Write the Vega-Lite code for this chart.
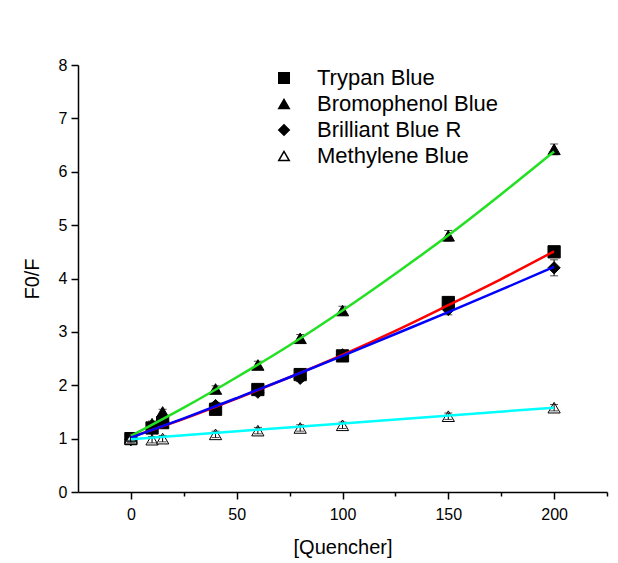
{
  "$schema": "https://vega.github.io/schema/vega-lite/v6.json",
  "width": 529,
  "height": 427,
  "autosize": "none",
  "padding": {"left": 78, "top": 65, "right": 11, "bottom": 71},
  "background": "white",
  "config": {
    "font": "Liberation Sans",
    "view": {"stroke": null},
    "axis": {"grid": false, "domainColor": "black", "tickColor": "black", "domainWidth": 1.5, "tickWidth": 1.5, "labelColor": "black", "titleColor": "black", "labelFont": "Liberation Sans", "titleFont": "Liberation Sans", "titleFontWeight": "normal"}
  },
  "datasets": {
    "pts": [
      {"series": "Trypan Blue", "x": 0, "y": 1.0, "err": 0.05},
      {"series": "Trypan Blue", "x": 10, "y": 1.2, "err": 0.05},
      {"series": "Trypan Blue", "x": 15, "y": 1.3, "err": 0.05},
      {"series": "Trypan Blue", "x": 40, "y": 1.55, "err": 0.06},
      {"series": "Trypan Blue", "x": 60, "y": 1.92, "err": 0.06},
      {"series": "Trypan Blue", "x": 80, "y": 2.2, "err": 0.06},
      {"series": "Trypan Blue", "x": 100, "y": 2.55, "err": 0.08},
      {"series": "Trypan Blue", "x": 150, "y": 3.55, "err": 0.1},
      {"series": "Trypan Blue", "x": 200, "y": 4.5, "err": 0.08},
      {"series": "Bromophenol Blue", "x": 0, "y": 1.02, "err": 0.05},
      {"series": "Bromophenol Blue", "x": 10, "y": 1.28, "err": 0.05},
      {"series": "Bromophenol Blue", "x": 15, "y": 1.5, "err": 0.05},
      {"series": "Bromophenol Blue", "x": 40, "y": 1.93, "err": 0.06},
      {"series": "Bromophenol Blue", "x": 60, "y": 2.38, "err": 0.07},
      {"series": "Bromophenol Blue", "x": 80, "y": 2.88, "err": 0.07},
      {"series": "Bromophenol Blue", "x": 100, "y": 3.4, "err": 0.08},
      {"series": "Bromophenol Blue", "x": 150, "y": 4.8, "err": 0.1},
      {"series": "Bromophenol Blue", "x": 200, "y": 6.42, "err": 0.1},
      {"series": "Brilliant Blue R", "x": 0, "y": 0.98, "err": 0.05},
      {"series": "Brilliant Blue R", "x": 10, "y": 1.18, "err": 0.05},
      {"series": "Brilliant Blue R", "x": 15, "y": 1.32, "err": 0.05},
      {"series": "Brilliant Blue R", "x": 40, "y": 1.62, "err": 0.06},
      {"series": "Brilliant Blue R", "x": 60, "y": 1.87, "err": 0.06},
      {"series": "Brilliant Blue R", "x": 80, "y": 2.13, "err": 0.06},
      {"series": "Brilliant Blue R", "x": 100, "y": 2.57, "err": 0.08},
      {"series": "Brilliant Blue R", "x": 150, "y": 3.42, "err": 0.1},
      {"series": "Brilliant Blue R", "x": 200, "y": 4.2, "err": 0.15},
      {"series": "Methylene Blue", "x": 0, "y": 1.0, "err": 0.05},
      {"series": "Methylene Blue", "x": 10, "y": 0.98, "err": 0.06},
      {"series": "Methylene Blue", "x": 15, "y": 1.0, "err": 0.06},
      {"series": "Methylene Blue", "x": 40, "y": 1.08, "err": 0.06},
      {"series": "Methylene Blue", "x": 60, "y": 1.15, "err": 0.06},
      {"series": "Methylene Blue", "x": 80, "y": 1.2, "err": 0.06},
      {"series": "Methylene Blue", "x": 100, "y": 1.25, "err": 0.06},
      {"series": "Methylene Blue", "x": 150, "y": 1.42, "err": 0.06},
      {"series": "Methylene Blue", "x": 200, "y": 1.58, "err": 0.06}
    ],
    "fits": [
      {"curve": "Trypan Blue fit", "x": 0, "y": 1.03},
      {"curve": "Trypan Blue fit", "x": 25, "y": 1.37},
      {"curve": "Trypan Blue fit", "x": 50, "y": 1.75},
      {"curve": "Trypan Blue fit", "x": 75, "y": 2.15},
      {"curve": "Trypan Blue fit", "x": 100, "y": 2.57},
      {"curve": "Trypan Blue fit", "x": 125, "y": 3.02},
      {"curve": "Trypan Blue fit", "x": 150, "y": 3.5},
      {"curve": "Trypan Blue fit", "x": 175, "y": 3.99},
      {"curve": "Trypan Blue fit", "x": 200, "y": 4.51},
      {"curve": "Bromophenol Blue fit", "x": 0, "y": 1.05},
      {"curve": "Bromophenol Blue fit", "x": 25, "y": 1.58},
      {"curve": "Bromophenol Blue fit", "x": 50, "y": 2.15},
      {"curve": "Bromophenol Blue fit", "x": 75, "y": 2.75},
      {"curve": "Bromophenol Blue fit", "x": 100, "y": 3.4},
      {"curve": "Bromophenol Blue fit", "x": 125, "y": 4.09},
      {"curve": "Bromophenol Blue fit", "x": 150, "y": 4.81},
      {"curve": "Bromophenol Blue fit", "x": 175, "y": 5.58},
      {"curve": "Bromophenol Blue fit", "x": 200, "y": 6.38},
      {"curve": "Brilliant Blue R fit", "x": 0, "y": 1.02},
      {"curve": "Brilliant Blue R fit", "x": 25, "y": 1.38},
      {"curve": "Brilliant Blue R fit", "x": 50, "y": 1.76},
      {"curve": "Brilliant Blue R fit", "x": 75, "y": 2.15},
      {"curve": "Brilliant Blue R fit", "x": 100, "y": 2.55},
      {"curve": "Brilliant Blue R fit", "x": 125, "y": 2.96},
      {"curve": "Brilliant Blue R fit", "x": 150, "y": 3.37},
      {"curve": "Brilliant Blue R fit", "x": 175, "y": 3.79},
      {"curve": "Brilliant Blue R fit", "x": 200, "y": 4.22},
      {"curve": "Methylene Blue fit", "x": 0, "y": 0.99},
      {"curve": "Methylene Blue fit", "x": 100, "y": 1.285},
      {"curve": "Methylene Blue fit", "x": 200, "y": 1.58}
    ]
  },
  "layer": [
    {
      "data": {"name": "pts"},
      "mark": {"type": "point", "filled": false, "stroke": "black", "strokeWidth": 1, "size": 150, "opacity": 1},
      "encoding": {
        "x": {"field": "x", "type": "quantitative", "title": "[Quencher]", "scale": {"domain": [-25, 225], "nice": false, "zero": false},
          "axis": {"titleFontSize": 20, "titlePadding": 15, "labelFontSize": 16, "labelPadding": 7,
            "values": [0, 25, 50, 75, 100, 125, 150, 175, 200, 225],
            "labelExpr": "datum.value % 50 === 0 && datum.value <= 200 ? datum.label : ''",
            "tickSize": {"condition": {"test": "datum.value % 50 !== 0", "value": 4}, "value": 7}}},
        "y": {"field": "y", "type": "quantitative", "title": "F0/F", "scale": {"domain": [0, 8], "nice": false},
          "axis": {"titleFontSize": 20, "titlePadding": 16, "labelFontSize": 16, "labelPadding": 4,
            "values": [0, 0.5, 1, 1.5, 2, 2.5, 3, 3.5, 4, 4.5, 5, 5.5, 6, 6.5, 7, 7.5, 8],
            "labelExpr": "datum.value % 1 === 0 ? datum.label : ''",
            "tickSize": {"condition": {"test": "datum.value % 1 !== 0", "value": 4}, "value": 7}}},
        "shape": {"field": "series", "type": "nominal",
          "scale": {"domain": ["Trypan Blue", "Bromophenol Blue", "Brilliant Blue R", "Methylene Blue"], "range": ["square", "triangle-up", "diamond", "triangle-up"]},
          "legend": {"title": null, "orient": "none", "legendX": 195, "legendY": 2, "labelFontSize": 22, "labelFont": "Liberation Sans", "labelColor": "black", "labelLimit": 400, "symbolSize": 110, "labelOffset": 22, "rowPadding": 4, "padding": 0,
            "encode": {"symbols": {"update": {"stroke": {"value": "black"}, "strokeWidth": {"value": 1}}}}}},
        "fill": {"field": "series", "type": "nominal",
          "scale": {"domain": ["Trypan Blue", "Bromophenol Blue", "Brilliant Blue R", "Methylene Blue"], "range": ["black", "black", "black", "white"]},
          "legend": {"title": null, "orient": "none", "legendX": 195, "legendY": 2, "labelFontSize": 22, "labelFont": "Liberation Sans", "labelColor": "black", "labelLimit": 400, "symbolSize": 110, "labelOffset": 22, "rowPadding": 4, "padding": 0,
            "encode": {"symbols": {"update": {"stroke": {"value": "black"}, "strokeWidth": {"value": 1}}}}}}
      }
    },
    {
      "data": {"name": "pts"},
      "mark": {"type": "errorbar", "ticks": {"size": 8, "color": "black", "thickness": 1}, "rule": {"color": "black", "strokeWidth": 1}},
      "encoding": {
        "x": {"field": "x", "type": "quantitative", "title": "[Quencher]"},
        "y": {"field": "y", "type": "quantitative", "title": "F0/F"},
        "yError": {"field": "err"}
      }
    },
    {
      "data": {"name": "fits"},
      "mark": {"type": "line", "strokeWidth": 2.5, "interpolate": "monotone"},
      "encoding": {
        "x": {"field": "x", "type": "quantitative", "title": "[Quencher]"},
        "y": {"field": "y", "type": "quantitative", "title": "F0/F"},
        "color": {"field": "curve", "type": "nominal", "legend": null,
          "scale": {"domain": ["Trypan Blue fit", "Bromophenol Blue fit", "Brilliant Blue R fit", "Methylene Blue fit"], "range": ["#ff0000", "#22e022", "#0000ff", "#00ffff"]}}
      }
    }
  ]
}
